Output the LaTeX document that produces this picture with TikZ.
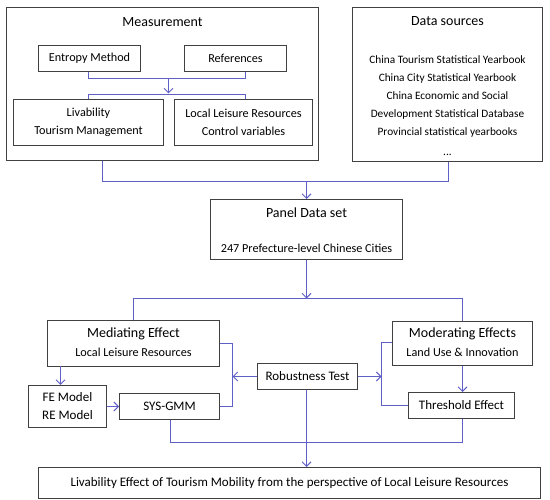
\documentclass[tikz,border=0pt]{standalone}
\usepackage{fontspec}
\setmainfont{Carlito}
\usetikzlibrary{arrows.meta}
\definecolor{linec}{RGB}{95,95,200}
\definecolor{boxc}{RGB}{65,65,65}
\begin{document}
\begin{tikzpicture}[x=1pt,y=-1pt,
  box/.style={draw=boxc,line width=1pt,inner sep=0pt,align=center,font=\fontsize{12.2}{18}\selectfont},
  sbox/.style={box,font=\fontsize{13}{18}\selectfont},
  ttl/.style={inner sep=0pt,font=\fontsize{14}{16}\selectfont},
  txt/.style={inner sep=0pt,align=center,font=\fontsize{12.2}{18}\selectfont},
  dtxt/.style={inner sep=0pt,align=center,font=\fontsize{11.3}{18}\selectfont},
  conn/.style={draw=linec,line width=1.2pt},
  arr/.style={conn,-{Straight Barb[length=4.5pt,width=9pt,line width=1pt]}}]
\useasboundingbox (0,0) rectangle (550,500);
\fill[white] (0,0) rectangle (550,500);
\begin{scope}[shift={(0.5,0.5)}]
% boxes
\node[box,minimum width=312pt,minimum height=153pt] (meas) at (162,83.5) {};
\node[ttl] (meast) at (162,22) {Measurement};
\node[box,minimum width=102pt,minimum height=26pt] (entropy) at (89,58) {Entropy Method};
\node[box,minimum width=102pt,minimum height=26pt] (refs) at (235,58) {References};
\node[box,minimum width=150pt,minimum height=46pt] (livab) at (88,122) {Livability\\Tourism Management};
\node[box,minimum width=138pt,minimum height=46pt] (llr) at (243,122) {Local Leisure Resources\\Control variables};
\node[box,minimum width=190pt,minimum height=154pt] (data) at (447,84) {};
\node[ttl] (datat) at (447,21) {Data sources};
\node[dtxt,anchor=north] (datal) at (447,55) {China Tourism Statistical Yearbook\\China City Statistical Yearbook\\China Economic and Social\\Development Statistical Database\\Provincial statistical yearbooks\\[2pt]...};
\node[box,minimum width=192pt,minimum height=60pt] (panel) at (306,229) {};
\node[ttl] (panelt) at (306,212) {Panel Data set};
\node[txt] (panell) at (306,248) {247 Prefecture-level Chinese Cities};
\node[box,minimum width=172pt,minimum height=46pt] (med) at (133,343) {};
\node[ttl] (medt) at (133,333.5) {Mediating Effect};
\node[txt] (medl) at (133,352) {Local Leisure Resources};
\node[sbox,minimum width=78pt,minimum height=42pt] (fe) at (67,406) {FE Model\\RE Model};
\node[sbox,minimum width=100pt,minimum height=26pt] (sys) at (169,406) {SYS-GMM};
\node[sbox,minimum width=100pt,minimum height=26pt] (rob) at (307,376) {Robustness Test};
\node[box,minimum width=140pt,minimum height=44pt] (mod) at (462,343) {};
\node[ttl] (modt) at (462,333.5) {Moderating Effects};
\node[txt] (modl) at (462,352) {Land Use \& Innovation};
\node[sbox,minimum width=106pt,minimum height=26pt] (thr) at (461,405) {Threshold Effect};
\node[sbox,minimum width=502pt,minimum height=31pt] (final) at (289,482.5) {Livability Effect of Tourism Mobility from the perspective of Local Leisure Resources};
% junction coordinates
\coordinate (j1a) at (88,78);
\coordinate (j1b) at (245,78);
\coordinate (j1m) at (168,78);
\coordinate (j2m) at (168,93);
\coordinate (j2a) at (88,94);
\coordinate (j2b) at (245,94);
\coordinate (j3a) at (102,181);
\coordinate (j3b) at (448,181);
\coordinate (j3m) at (306,181);
\coordinate (j4m) at (306,298);
\coordinate (j4a) at (133,298);
\coordinate (j4b) at (462,298);
\coordinate (j5) at (60,366);
\coordinate (j6a) at (232,343);
\coordinate (j6b) at (232,406);
\coordinate (j6m) at (232,376);
\coordinate (j7a) at (381,342);
\coordinate (j7b) at (381,405);
\coordinate (j7m) at (381,376);
\coordinate (j8a) at (170,442);
\coordinate (j8b) at (462,442);
% connectors
\draw[conn] (entropy.south -| j1a) -- (j1a) -- (j1b) -- (refs.south -| j1b);
\draw[arr] (j1m) -- (j2m);
\draw[conn] (livab.north -| j2a) -- (j2a) -- (j2b) -- (llr.north -| j2b);
\draw[conn] (meas.south -| j3a) -- (j3a) -- (j3b) -- (data.south -| j3b);
\draw[arr] (j3m) -- (panel.north -| j3m);
\draw[arr] (panel.south -| j4m) -- (j4m);
\draw[conn] (med.north -| j4a) -- (j4a) -- (j4b) -- (mod.north -| j4b);
\draw[arr] (j5) -- (fe.north -| j5);
\draw[arr] (fe.east |- sys.west) -- (sys.west);
\draw[conn] (med.east |- j6a) -- (j6a) -- (j6b) -- (sys.east |- j6b);
\draw[arr] (rob.west |- j6m) -- (j6m);
\draw[arr] (rob.east |- j7m) -- (j7m);
\draw[conn] (mod.west |- j7a) -- (j7a) -- (j7b) -- (thr.west |- j7b);
\draw[arr] (mod.south -| j8b) -- (thr.north -| j8b);
\draw[conn] (sys.south -| j8a) -- (j8a) -- (j8b) -- (thr.south -| j8b);
\draw[arr] (rob.south -| j4m) -- (final.north -| j4m);
\end{scope}
\end{tikzpicture}
\end{document}
